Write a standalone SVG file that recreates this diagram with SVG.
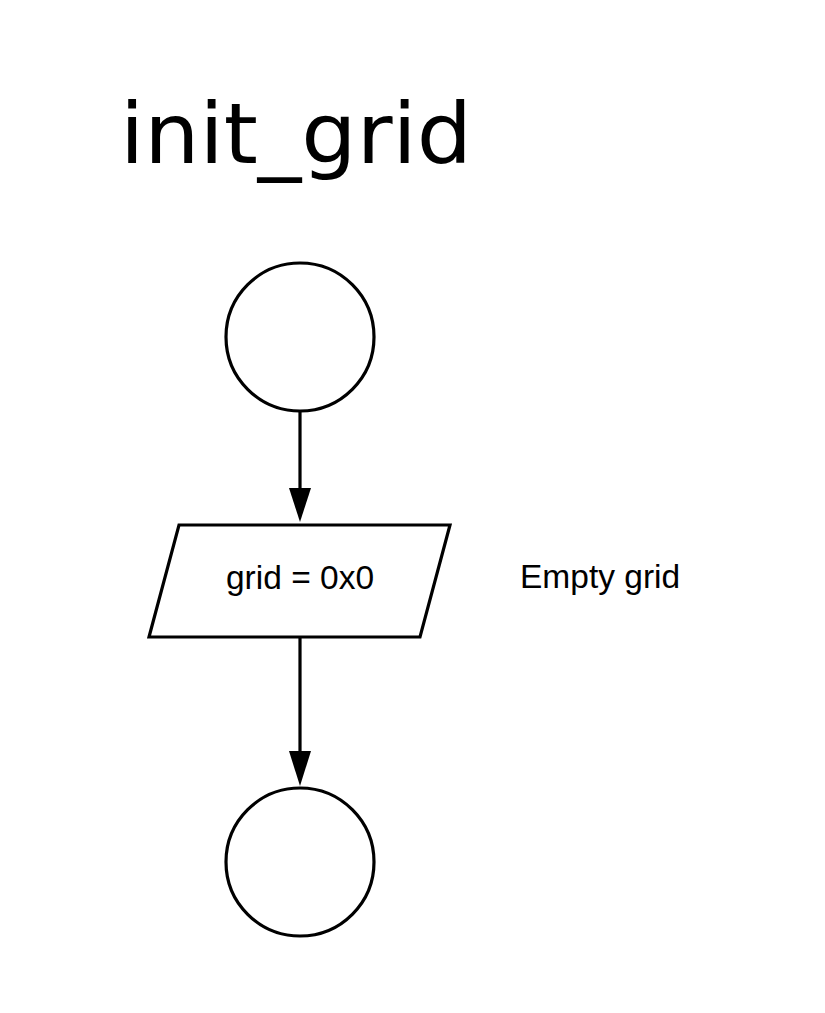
<svg xmlns="http://www.w3.org/2000/svg" width="825" height="1013" viewBox="0 0 825 1013">
<style>
.shape{fill:#fff;stroke:#000;stroke-width:3.2}
.edge{fill:none;stroke:#000;stroke-width:3.2}
.head{fill:#000;stroke:none}
.lbl{font-family:"Liberation Sans",Arial,sans-serif;font-size:33.5px;fill:#000}
</style>
<rect width="825" height="1013" fill="#fff"/>
<text id="title" x="120" y="163" font-family="DejaVu Sans, sans-serif" font-size="84" textLength="352" lengthAdjust="spacingAndGlyphs">init_grid</text>
<g id="start"><circle class="shape" cx="300" cy="337" r="74"/></g>
<g id="assign">
<polygon class="shape" points="179,525 450,525 420,637 149,637"/>
<text class="lbl" x="300" y="589" text-anchor="middle">grid = 0x0</text>
</g>
<g id="note"><text class="lbl" x="520" y="588">Empty grid</text></g>
<g id="end"><circle class="shape" cx="300" cy="862" r="74"/></g>
<g id="connectors">
<path class="edge" d="M300,411 V492"/>
<polygon class="head" points="289,488 311,488 300,522"/>
<path class="edge" d="M300,637 V755"/>
<polygon class="head" points="289,751 311,751 300,786"/>
</g>
</svg>
